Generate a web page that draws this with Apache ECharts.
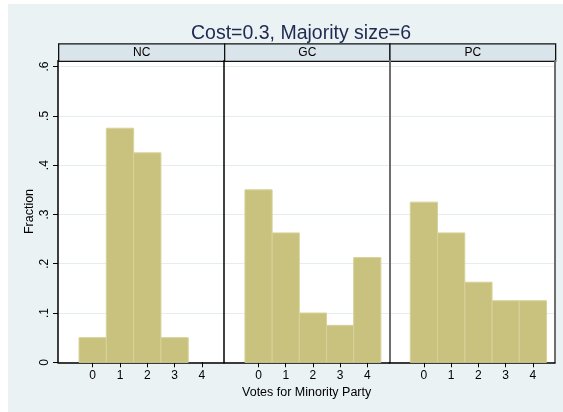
<!DOCTYPE html>
<html>
<head>
<meta charset="utf-8">
<script src="https://cdn.jsdelivr.net/npm/echarts@6/dist/echarts.min.js"></script>
<style>
  body { margin: 0; background: #fff; }
  #bg { position: absolute; left: 8px; top: 4px; width: 555px; height: 408px; background: #eaf2f3; }
  #main { position: absolute; left: 0; top: 0; width: 563px; height: 412px; }
</style>
</head>
<body>
<div id="bg"></div>
<div id="main"></div>
<script>
// data
const votes = [0, 1, 2, 3, 4];
const panelNames = ['NC', 'GC', 'PC'];
const ncFraction = [0.05, 0.475, 0.425, 0.05, 0];
const gcFraction = [0.35, 0.2625, 0.1, 0.075, 0.2125];
const pcFraction = [0.325, 0.2625, 0.1625, 0.125, 0.125];
const yTicks = [0, 0.1, 0.2, 0.3, 0.4, 0.5, 0.6];
const yTickLabels = ['0', '.1', '.2', '.3', '.4', '.5', '.6'];

const panelValues = [ncFraction, gcFraction, pcFraction];

// panel layout
const panelLefts = [58, 224, 389.3];
const panelWidths = [166, 165.3, 165.7];
const panelTop = 60.7;
const panelHeight = 301.6;
const edgeColors = ['#000', '#000', '#6e6e6e'];
const font = 'Liberation Sans, Arial, sans-serif';

const myChart = echarts.init(document.getElementById('main'));

const grids = panelLefts.map((l, i) => ({
  left: l, top: panelTop, width: panelWidths[i], height: panelHeight,
  show: true, backgroundColor: '#fff', borderWidth: 0
}));

const xAxes = panelLefts.map((l, i) => ({
  type: 'value', gridIndex: i, min: -1.27, max: 4.81,
  name: i === 1 ? 'Votes for Minority Party' : '',
  nameLocation: 'middle', nameGap: 24,
  nameTextStyle: { color: '#000', fontSize: 12.5, fontFamily: font },
  axisLine: { show: true, onZero: false, lineStyle: { color: '#000', width: 1.5 } },
  axisTick: { show: true, length: 5, customValues: votes, lineStyle: { color: '#000' } },
  axisLabel: { customValues: votes, color: '#000', fontSize: 12, fontFamily: font, margin: 7 },
  splitLine: { show: false }
}));

const yAxes = panelLefts.map((l, i) => ({
  type: 'value', gridIndex: i, min: 0, max: 0.612, interval: 0.1,
  name: i === 0 ? 'Fraction' : '',
  nameLocation: 'middle', nameGap: 22,
  nameTextStyle: { color: '#000', fontSize: 12.5, fontFamily: font },
  axisLine: { show: true, onZero: false, lineStyle: { color: edgeColors[i], width: i === 2 ? 2 : 1.5 } },
  axisTick: { show: i === 0, length: 5, customValues: yTicks, lineStyle: { color: '#000' } },
  axisLabel: {
    show: i === 0, customValues: yTicks, rotate: 90, color: '#000',
    fontSize: 12, fontFamily: font, margin: 7,
    formatter: v => yTickLabels[yTicks.indexOf(Math.round(v * 10) / 10)]
  },
  splitLine: { show: true, lineStyle: { color: '#e4edef', width: 1 } }
}));

// right edge of the last panel
yAxes.push({
  type: 'value', gridIndex: 2, position: 'right', min: 0, max: 0.612,
  axisLine: { show: true, onZero: false, lineStyle: { color: edgeColors[2], width: 2 } },
  axisTick: { show: false }, axisLabel: { show: false }, splitLine: { show: false }
});

function renderBar(params, api) {
  const x = api.value(0);
  const y = api.value(1);
  if (!y) return null;
  const p0 = api.coord([x - 0.5, y]);
  const p1 = api.coord([x + 0.5, 0]);
  return {
    type: 'rect',
    shape: { x: p0[0], y: p0[1], width: p1[0] - p0[0], height: p1[1] - p0[1] },
    style: { fill: '#c9c27e', stroke: '#d7d299', lineWidth: 1 }
  };
}

const series = panelValues.map((vals, i) => ({
  type: 'custom', name: panelNames[i],
  xAxisIndex: i, yAxisIndex: i,
  renderItem: renderBar,
  data: votes.map((v, j) => [v, vals[j]])
}));

const strips = panelNames.map((name, i) => ({
  type: 'group', left: panelLefts[i], top: 43.3,
  children: [
    { type: 'rect', shape: { x: 0, y: 0, width: panelWidths[i], height: 17.4 },
      style: { fill: '#d9e5ea', stroke: '#111', lineWidth: 1.3 } },
    { type: 'text', x: panelWidths[i] / 2, y: 9,
      style: { text: name, fill: '#000', fontSize: 12, fontFamily: font,
               textAlign: 'center', textVerticalAlign: 'middle' } }
  ]
}));

const option = {
  animation: false,
  title: {
    text: 'Cost=0.3, Majority size=6',
    left: 296, top: 19, textAlign: 'center',
    textStyle: { color: '#1e2a52', fontSize: 19.5, fontWeight: 'normal', fontFamily: font }
  },
  grid: grids,
  xAxis: xAxes,
  yAxis: yAxes,
  series: series,
  graphic: strips
};

myChart.setOption(option);
</script>
</body>
</html>
